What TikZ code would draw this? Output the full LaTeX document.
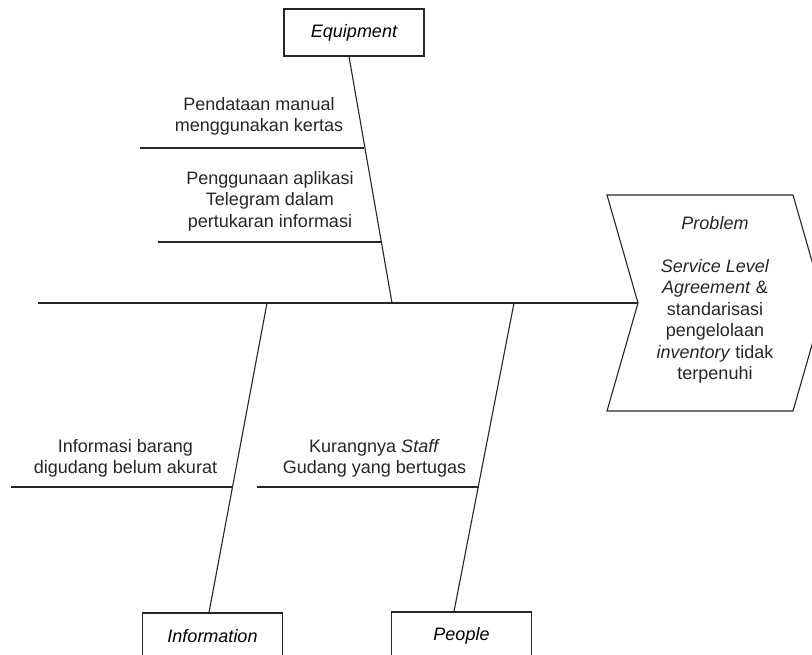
\documentclass[tikz,border=0pt]{standalone}
\usepackage{fontspec}
\setmainfont{Liberation Sans}
\tikzset{
  bone/.style={draw=black!85, line width=1.1pt},
  catbox/.style={draw=black!85, line width=1.1pt, minimum width=140pt, minimum height=47pt, inner sep=0pt, font=\fontsize{18}{21.5}\selectfont\itshape},
  cause/.style={align=center, inner sep=0pt, font=\fontsize{18}{21.5}\selectfont, text=black!85}
}
\begin{document}
\begin{tikzpicture}[x=1pt,y=-1pt]
\useasboundingbox (0,0) rectangle (812,655);
\clip (0,0) rectangle (812,655);
% category boxes
\node[catbox] (eq) at (354,32.5) {Equipment};
\node[catbox] (inf) at (212.5,636.5) {Information};
\node[catbox] (ppl) at (461.5,635.5) {People};
% problem head
\coordinate (pA) at (607,195);
\coordinate (pB) at (793,195);
\coordinate (pC) at (824,303);
\coordinate (pD) at (793,411);
\coordinate (pE) at (607,411);
\coordinate (notch) at (638,303);
\draw[bone] (pA) -- (pB) -- (pC) -- (pD) -- (pE) -- (notch) -- cycle;
\node[cause] (prob) at (715,300) {\textit{Problem}\\[21.5pt]\textit{Service Level}\\\textit{Agreement} \&\\standarisasi\\pengelolaan\\\textit{inventory} tidak\\terpenuhi};
% spine
\coordinate (spL) at (38,303);
\draw[bone] (spL) -- (notch);
% main bones
\coordinate (eqBot) at (392,303);
\coordinate (infTop) at (267,303);
\coordinate (pplTop) at (514,303);
\draw[bone] ([xshift=-5pt]eq.south) -- (eqBot);
\draw[bone] (infTop) -- ([xshift=-3.5pt]inf.north);
\draw[bone] (pplTop) -- ([xshift=-7.5pt]ppl.north);
% sub-bones
\coordinate (e1L) at (140,148); \coordinate (e1R) at (364,148);
\coordinate (e2L) at (158,242); \coordinate (e2R) at (381,242);
\coordinate (i1L) at (11,487);  \coordinate (i1R) at (232.5,487);
\coordinate (p1L) at (257,487); \coordinate (p1R) at (478.5,487);
\draw[bone] (e1L) -- (e1R);
\draw[bone] (e2L) -- (e2R);
\draw[bone] (i1L) -- (i1R);
\draw[bone] (p1L) -- (p1R);
% cause texts
\node[cause] (c1) at (259,116.5) {Pendataan manual\\menggunakan kertas};
\node[cause] (c2) at (270,201) {Penggunaan aplikasi\\Telegram dalam\\pertukaran informasi};
\node[cause] (c3) at (125.5,458.5) {Informasi barang\\digudang belum akurat};
\node[cause] (c4) at (374.5,458.5) {Kurangnya \textit{Staff}\\Gudang yang bertugas};
\end{tikzpicture}
\end{document}
